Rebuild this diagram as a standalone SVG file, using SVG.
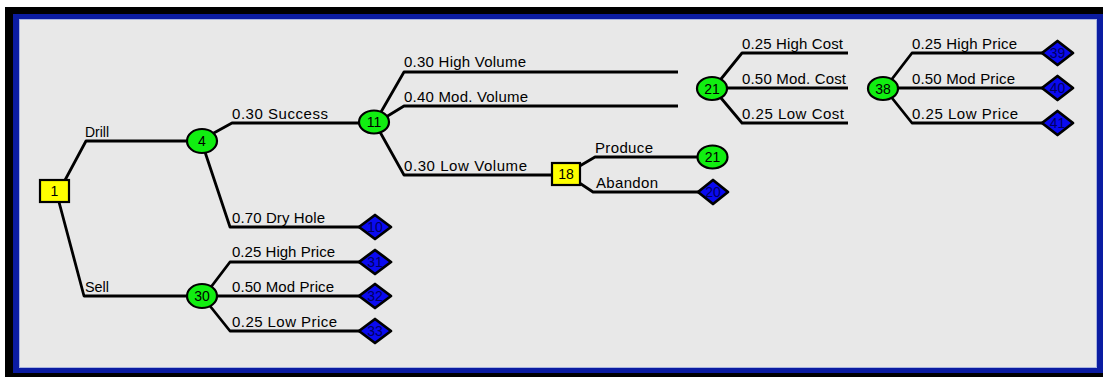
<svg xmlns="http://www.w3.org/2000/svg" width="1103" height="377" viewBox="0 0 1103 377">
<style>
.lbl{font-family:"Liberation Sans",Arial,sans-serif;font-size:15px;fill:#000}
.num{font-family:"Liberation Sans",Arial,sans-serif;font-size:14px;fill:#000;text-anchor:middle}
.dnum{font-family:"Liberation Sans",Arial,sans-serif;font-size:14px;fill:#000060;text-anchor:middle}
.chance{fill:#11ee11;stroke:#000;stroke-width:2.2}
.dec{fill:#ffff00;stroke:#000;stroke-width:2.2}
.term{fill:#0a0af0;stroke:#000;stroke-width:2.8;stroke-linejoin:round}
.edge{fill:none;stroke:#000;stroke-width:2.8;stroke-linejoin:round}
</style>
<rect x="0" y="0" width="1103" height="377" fill="#ffffff"/>
<rect x="5" y="7" width="1110" height="380" fill="#000000"/>
<rect x="13" y="14" width="1100" height="359" fill="#0b1ca2"/>
<rect x="19.5" y="19.5" width="1077" height="348" fill="#e8e8e8" stroke="#a8b4e0" stroke-width="1"/>

<g id="connectors">
<polyline class="edge" points="64,182 86,141 188,141"/>
<polyline class="edge" points="59,202 84,296 188,296"/>
<polyline class="edge" points="212,134 232,123 360,123"/>
<polyline class="edge" points="205,152 230,227 362,227"/>
<polyline class="edge" points="211,287 230,262 362,262"/>
<polyline class="edge" points="217,296 362,296"/>
<polyline class="edge" points="210,306 230,331 362,331"/>
<polyline class="edge" points="381,112 404,72 678,72"/>
<polyline class="edge" points="386,117 404,106 678,106"/>
<polyline class="edge" points="380,132 404,175 552,175"/>
<polyline class="edge" points="578,167 595,157 697,157"/>
<polyline class="edge" points="578,182 593,192 700,192"/>
<polyline class="edge" points="721,79 742,53 848,53"/>
<polyline class="edge" points="727,88 848,88"/>
<polyline class="edge" points="721,98 742,123 848,123"/>
<polyline class="edge" points="892,79 912,53 1045,53"/>
<polyline class="edge" points="898,88 1045,88"/>
<polyline class="edge" points="892,98 912,123 1045,123"/>
</g>

<g id="labels">
<text class="lbl" x="85" y="137" textLength="24" lengthAdjust="spacingAndGlyphs">Drill</text>
<text class="lbl" x="85" y="292" textLength="24" lengthAdjust="spacingAndGlyphs">Sell</text>
<text class="lbl" x="232" y="119" textLength="96" lengthAdjust="spacing">0.30 Success</text>
<text class="lbl" x="232" y="223" textLength="93" lengthAdjust="spacing">0.70 Dry Hole</text>
<text class="lbl" x="232" y="257" textLength="103" lengthAdjust="spacing">0.25 High Price</text>
<text class="lbl" x="232" y="292" textLength="102" lengthAdjust="spacing">0.50 Mod Price</text>
<text class="lbl" x="232" y="327" textLength="105" lengthAdjust="spacing">0.25 Low Price</text>
<text class="lbl" x="404" y="67" textLength="122" lengthAdjust="spacing">0.30 High Volume</text>
<text class="lbl" x="404" y="102" textLength="124" lengthAdjust="spacing">0.40 Mod. Volume</text>
<text class="lbl" x="404" y="171" textLength="123" lengthAdjust="spacing">0.30 Low Volume</text>
<text class="lbl" x="595" y="153" textLength="58" lengthAdjust="spacing">Produce</text>
<text class="lbl" x="596" y="188" textLength="62" lengthAdjust="spacing">Abandon</text>
<text class="lbl" x="742" y="49" textLength="101" lengthAdjust="spacing">0.25 High Cost</text>
<text class="lbl" x="742" y="84" textLength="104" lengthAdjust="spacing">0.50 Mod. Cost</text>
<text class="lbl" x="742" y="119" textLength="102" lengthAdjust="spacing">0.25 Low Cost</text>
<text class="lbl" x="912" y="49" textLength="105" lengthAdjust="spacing">0.25 High Price</text>
<text class="lbl" x="912" y="84" textLength="103" lengthAdjust="spacing">0.50 Mod Price</text>
<text class="lbl" x="912" y="119" textLength="106" lengthAdjust="spacing">0.25 Low Price</text>
</g>

<g id="node-1"><rect class="dec" x="40" y="180" width="29" height="22"/><text class="num" x="54.5" y="196">1</text></g>
<g id="node-18"><rect class="dec" x="552" y="163" width="28" height="22"/><text class="num" x="566" y="179">18</text></g>

<g id="node-4"><ellipse class="chance" cx="202" cy="141" rx="15" ry="12"/><text class="num" x="202" y="146">4</text></g>
<g id="node-30"><ellipse class="chance" cx="202" cy="296" rx="15" ry="12"/><text class="num" x="202" y="301">30</text></g>
<g id="node-11"><ellipse class="chance" cx="374" cy="122" rx="15" ry="11.5"/><text class="num" x="374" y="127">11</text></g>
<g id="node-21a"><ellipse class="chance" cx="712" cy="88.5" rx="15" ry="11.5"/><text class="num" x="712" y="93.5">21</text></g>
<g id="node-21b"><ellipse class="chance" cx="712.5" cy="157" rx="15" ry="11.5"/><text class="num" x="712.5" y="162">21</text></g>
<g id="node-38"><ellipse class="chance" cx="883" cy="88.5" rx="15" ry="11.5"/><text class="num" x="883" y="93.5">38</text></g>

<g id="node-10"><polygon class="term" points="359,227 375,215 391,227 375,239"/><text class="dnum" x="375" y="232">10</text></g>
<g id="node-31"><polygon class="term" points="359,262 375,250 391,262 375,274"/><text class="dnum" x="375" y="267">31</text></g>
<g id="node-32"><polygon class="term" points="359,296 375,284 391,296 375,308"/><text class="dnum" x="375" y="301">32</text></g>
<g id="node-33"><polygon class="term" points="359,331 375,319 391,331 375,343"/><text class="dnum" x="375" y="336">33</text></g>
<g id="node-20"><polygon class="term" points="698,192 713,180 728,192 713,204"/><text class="dnum" x="713" y="197">20</text></g>
<g id="node-39"><polygon class="term" points="1042,53 1057.5,41 1073,53 1057.5,65"/><text class="dnum" x="1057.5" y="58">39</text></g>
<g id="node-40"><polygon class="term" points="1042,88 1057.5,76 1073,88 1057.5,100"/><text class="dnum" x="1057.5" y="93">40</text></g>
<g id="node-41"><polygon class="term" points="1042,123 1057.5,111 1073,123 1057.5,135"/><text class="dnum" x="1057.5" y="128">41</text></g>
</svg>
